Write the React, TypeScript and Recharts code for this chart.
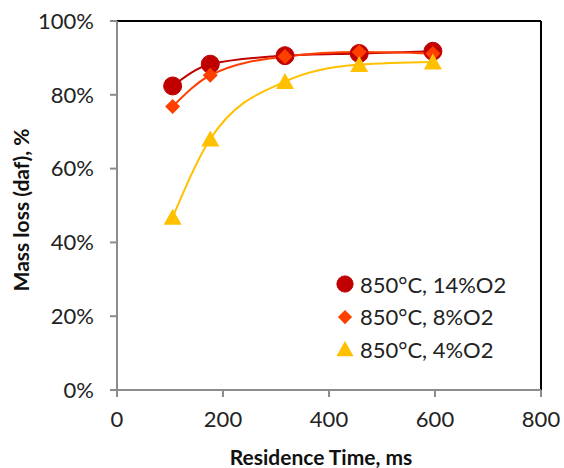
import React from "react";
import {
  ComposedChart,
  Line,
  XAxis,
  YAxis,
  ReferenceLine,
} from "recharts";

// residence time (ms) for every run
const times = [105, 176, 317, 457, 596];

// mass loss (daf), %
const loss14 = [82.4, 88.3, 90.6, 91.2, 91.8];
const loss8 = [76.8, 85.3, 90.4, 91.6, 91.2];
const loss4 = [46.8, 68.0, 83.6, 88.2, 88.9];

const xTicks = [0, 200, 400, 600, 800];
const yTicks = [0, 20, 40, 60, 80, 100];

const seriesNames = ["850°C, 14%O2", "850°C, 8%O2", "850°C, 4%O2"];

const FONT = "Lato, 'Open Sans', sans-serif";
const AXIS_GREY = "#8c8c8c";

const toPoints = (vals: number[]) => times.map((t, i) => ({ t, v: vals[i] }));

const series = [
  { name: seriesNames[0], data: toPoints(loss14), color: "#C00000", shape: "circle" },
  { name: seriesNames[1], data: toPoints(loss8), color: "#FF3F00", shape: "diamond" },
  { name: seriesNames[2], data: toPoints(loss4), color: "#FFC000", shape: "triangle" },
];

const Marker = ({ cx, cy, shape, color, s = 1 }: any) => {
  if (cx == null || cy == null) return null;
  if (shape === "circle") {
    return <circle cx={cx} cy={cy} r={9 * s} fill={color} stroke={color} />;
  }
  if (shape === "diamond") {
    const d = 7.5 * s;
    return (
      <polygon
        points={`${cx},${cy - d} ${cx + d},${cy} ${cx},${cy + d} ${cx - d},${cy}`}
        fill={color}
      />
    );
  }
  const w = 9 * s;
  const h = 15 * s;
  return (
    <polygon
      points={`${cx},${cy - h / 2 - 1} ${cx + w},${cy + h / 2} ${cx - w},${cy + h / 2}`}
      fill={color}
    />
  );
};

const LegendBox = () => (
  <div
    style={{
      position: "absolute",
      left: 334,
      top: 268,
      fontFamily: FONT,
      fontSize: 22,
      color: "#222",
    }}
  >
    {series.map((s) => (
      <div
        key={s.name}
        style={{ display: "flex", alignItems: "center", height: 32.5 }}
      >
        <svg width={24} height={24} style={{ marginRight: 2 }}>
          <Marker
            cx={11}
            cy={12}
            shape={s.shape}
            color={s.color}
            s={s.shape === "circle" ? 0.9 : 0.95}
          />
        </svg>
        <span>{s.name}</span>
      </div>
    ))}
  </div>
);

export default function App() {
  return (
    <div style={{ position: "absolute", left: 0, top: 0, width: 564, height: 468, background: "#fff" }}>
      <ComposedChart
        width={564}
        height={468}
        margin={{ top: 21, right: 23, left: 0, bottom: 0 }}
      >
        <XAxis
          type="number"
          dataKey="t"
          domain={[0, 800]}
          ticks={xTicks}
          allowDuplicatedCategory={false}
          height={78}
          stroke={AXIS_GREY}
          strokeWidth={2}
          tickSize={7}
          tickMargin={14}
          tick={{ fill: "#222", fontSize: 22, fontFamily: FONT }}
          label={(props: any) => {
            const vb = props.viewBox;
            return (
              <text
                x={vb.x + vb.width / 2 - 8}
                y={465}
                textAnchor="middle"
                fontFamily={FONT}
                fontWeight={700}
                fontSize={21}
                fill="#111"
              >
                Residence Time, ms
              </text>
            );
          }}
        />
        <YAxis
          type="number"
          domain={[0, 100]}
          ticks={yTicks}
          width={117}
          stroke={AXIS_GREY}
          strokeWidth={2}
          tickSize={7}
          tickMargin={16}
          tickFormatter={(v) => `${v}%`}
          tick={{ fill: "#222", fontSize: 22, fontFamily: FONT }}
          label={() => (
            <text
              transform="translate(29, 210) rotate(-90)"
              textAnchor="middle"
              fontFamily={FONT}
              fontWeight={700}
              fontSize={21}
              fill="#111"
            >
              Mass loss (daf), %
            </text>
          )}
        />
        <ReferenceLine y={100} stroke="#000" strokeWidth={2} />
        <ReferenceLine x={800} stroke="#000" strokeWidth={2} />
        {series.map((s) => (
          <Line
            key={s.name + "-m"}
            data={s.data}
            dataKey="v"
            type="linear"
            stroke="none"
            isAnimationActive={false}
            dot={(p: any) => (
              <Marker key={`${s.name}-${p.index}`} cx={p.cx} cy={p.cy} shape={s.shape} color={s.color} />
            )}
            activeDot={false}
          />
        ))}
        {series.map((s) => (
          <Line
            key={s.name + "-c"}
            data={s.data}
            dataKey="v"
            type="monotone"
            stroke={s.color}
            strokeWidth={2}
            dot={false}
            activeDot={false}
            isAnimationActive={false}
          />
        ))}
      </ComposedChart>
      <LegendBox />
    </div>
  );
}
